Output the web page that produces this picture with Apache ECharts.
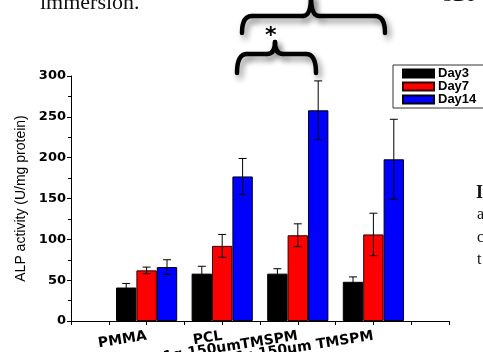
<!DOCTYPE html>
<html>
<head>
<meta charset="utf-8">
<script src="https://cdn.jsdelivr.net/npm/echarts@6/dist/echarts.min.js"></script>
<style>
  html, body { margin: 0; padding: 0; background: #fff; }
  #chart { width: 483px; height: 352px; }
</style>
</head>
<body>
<div id="chart"></div>
<script>
var chart = echarts.init(document.getElementById('chart'));

// groups on the x axis (value axis 0..10, groups sit at 2,4,6,8)
var categories = ['PMMA', 'PCL', '0.1g 150umTMSPM', '0.6g 150um TMSPM'];
var positions = [2, 4, 6, 8];
var yTicks = [0, 50, 100, 150, 200, 250, 300];

var day3 = [41, 58, 58, 48];
var day3Err = [5, 9, 6, 6];
var day7 = [62, 92, 105, 106];
var day7Err = [4, 14, 14, 26];
var day14 = [66, 177, 258, 198];
var day14Err = [9, 22, 36, 49];

var barW = 20.4;

function pairs(vals) {
  return vals.map(function (v, i) { return [positions[i], v]; });
}

function errSeries(vals, errs, offset) {
  return {
    type: 'custom',
    silent: true,
    z: 5,
    data: vals.map(function (v, i) { return [positions[i], v, errs[i]]; }),
    renderItem: function (params, api) {
      var x = api.value(0), v = api.value(1), e = api.value(2);
      var top = api.coord([x, v + e]);
      var bot = api.coord([x, v - e]);
      var cx = top[0] + offset;
      var st = { stroke: '#000', lineWidth: 1 };
      return {
        type: 'group',
        children: [
          { type: 'line', shape: { x1: cx, y1: top[1], x2: cx, y2: bot[1] }, style: st },
          { type: 'line', shape: { x1: cx - 4, y1: top[1], x2: cx + 4, y2: top[1] }, style: st },
          { type: 'line', shape: { x1: cx - 4, y1: bot[1], x2: cx + 4, y2: bot[1] }, style: st }
        ]
      };
    }
  };
}

function brace(x1, x2, yBase, yEnd, xm, yTip) {
  var st = {
    stroke: '#000', lineWidth: 4.5, fill: null, lineCap: 'round',
    shadowBlur: 6, shadowColor: 'rgba(0,0,0,0.45)', shadowOffsetX: 3, shadowOffsetY: 4
  };
  return [
    { type: 'bezierCurve', shape: { x1: x1, y1: yEnd, cpx1: x1, cpy1: yBase, x2: x1 + 10, y2: yBase }, style: st },
    { type: 'line', shape: { x1: x1 + 10, y1: yBase, x2: xm - 8, y2: yBase }, style: st },
    { type: 'bezierCurve', shape: { x1: xm - 8, y1: yBase, cpx1: xm, cpy1: yBase, x2: xm, y2: yTip }, style: st },
    { type: 'bezierCurve', shape: { x1: xm, y1: yTip, cpx1: xm, cpy1: yBase, x2: xm + 8, y2: yBase }, style: st },
    { type: 'line', shape: { x1: xm + 8, y1: yBase, x2: x2 - 10, y2: yBase }, style: st },
    { type: 'bezierCurve', shape: { x1: x2 - 10, y1: yBase, cpx1: x2, cpy1: yBase, x2: x2, y2: yEnd }, style: st }
  ];
}

var pageFont = '"Liberation Serif", "DejaVu Serif", serif';

var option = {
  animation: false,
  grid: { left: 71, right: 34, top: 76, bottom: 31, outerBoundsMode: 'none', containLabel: false },
  legend: {
    orient: 'vertical',
    left: 393,
    top: 65,
    itemWidth: 31,
    itemHeight: 8,
    itemGap: 0,
    padding: [2, 14, 2, 9],
    borderColor: '#333',
    borderWidth: 1,
    icon: 'rect',
    textStyle: { fontFamily: '"Liberation Sans", Arial, sans-serif', fontWeight: 'bold', fontSize: 13, color: '#000', padding: [0, 0, 0, -1] },
    data: ['Day3', 'Day7', 'Day14']
  },
  xAxis: {
    type: 'value',
    min: 0,
    max: 10,
    interval: 1,
    splitLine: { show: false },
    axisLine: { show: true, onZero: false, lineStyle: { color: '#000', width: 1 } },
    axisTick: { show: true, length: 4, lineStyle: { color: '#000' } },
    axisLabel: {
      rotate: 9,
      margin: 15,
      fontFamily: '"DejaVu Sans", sans-serif',
      fontWeight: 'bold',
      fontSize: 14,
      color: '#000',
      hideOverlap: false,
      formatter: function (v) {
        var i = positions.indexOf(v);
        return i >= 0 ? categories[i] : '';
      }
    }
  },
  yAxis: {
    type: 'value',
    min: yTicks[0],
    max: yTicks[yTicks.length - 1],
    interval: 50,
    name: 'ALP activity (U/mg protein)',
    nameLocation: 'middle',
    nameGap: 34,
    nameTextStyle: { fontFamily: '"Liberation Sans", Arial, sans-serif', fontSize: 14, color: '#000' },
    splitLine: { show: false },
    axisLine: { show: true, lineStyle: { color: '#000', width: 1 } },
    axisTick: { show: true, length: 4, lineStyle: { color: '#000' } },
    minorTick: { show: true, splitNumber: 2, length: 3, lineStyle: { color: '#000' } },
    axisLabel: {
      margin: 5,
      fontFamily: '"DejaVu Sans", sans-serif',
      fontWeight: 'bold',
      fontSize: 13,
      color: '#000'
    }
  },
  series: [
    {
      name: 'Day3', type: 'bar', barWidth: barW, barGap: '0%',
      itemStyle: { color: '#000', borderColor: '#000', borderWidth: 1 },
      data: pairs(day3)
    },
    {
      name: 'Day7', type: 'bar', barWidth: barW, barGap: '0%',
      itemStyle: { color: '#ff0000', borderColor: '#300', borderWidth: 1 },
      data: pairs(day7)
    },
    {
      name: 'Day14', type: 'bar', barWidth: barW, barGap: '0%',
      itemStyle: { color: '#0000ff', borderColor: '#001', borderWidth: 1 },
      data: pairs(day14)
    },
    errSeries(day3, day3Err, -barW),
    errSeries(day7, day7Err, 0),
    errSeries(day14, day14Err, barW)
  ],
  graphic: [].concat(
    brace(242, 385, 16, 33, 311, -4),
    brace(237, 316, 54, 73, 275, 42),
    [
      { type: 'text', left: 265, top: 25, style: { text: '*', font: 'bold 22px "DejaVu Sans", sans-serif', fill: '#000' } },
      { type: 'text', x: 40, y: 14, style: { text: 'immersion.', font: '22px ' + pageFont, fill: '#111', textVerticalAlign: 'bottom' } },
      { type: 'text', x: 443, y: 6, style: { text: '3DI', font: '20px ' + pageFont, fill: '#111', textVerticalAlign: 'bottom' } },
      { type: 'text', x: 476, y: 202, style: { text: 'I', font: 'bold 18px ' + pageFont, fill: '#111', textVerticalAlign: 'bottom' } },
      { type: 'text', x: 477, y: 223, style: { text: 'a', font: '16px ' + pageFont, fill: '#111', textVerticalAlign: 'bottom' } },
      { type: 'text', x: 477, y: 246, style: { text: 'c', font: '16px ' + pageFont, fill: '#111', textVerticalAlign: 'bottom' } },
      { type: 'text', x: 477, y: 268, style: { text: 't', font: '16px ' + pageFont, fill: '#111', textVerticalAlign: 'bottom' } }
    ]
  )
};

chart.setOption(option);
</script>
</body>
</html>
